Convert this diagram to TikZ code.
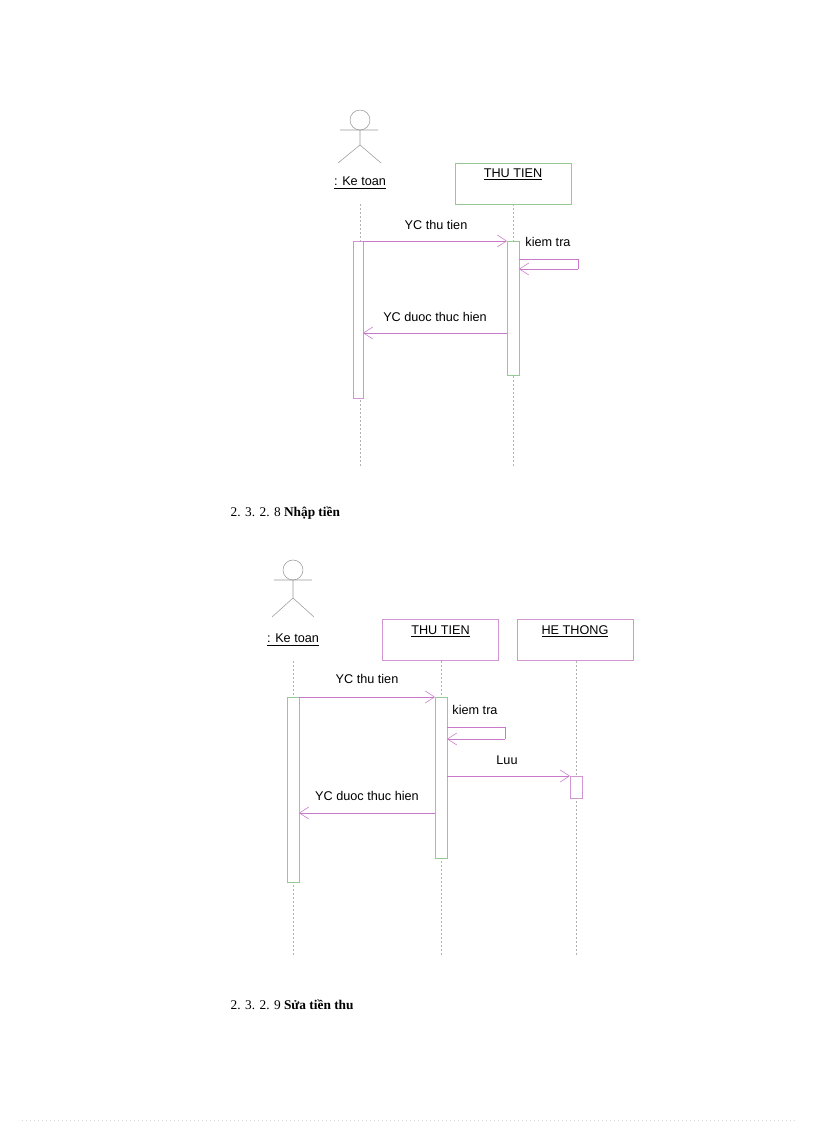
\documentclass[tikz,border=0pt]{standalone}
\usepackage{fontspec}
\setmainfont{Liberation Serif}
\newfontfamily\diag{Liberation Sans}
\usetikzlibrary{arrows.meta}
\definecolor{boxg}{RGB}{150,200,150}
\definecolor{boxm}{RGB}{210,150,210}
\definecolor{msg}{RGB}{200,120,200}
\begin{document}
\begin{tikzpicture}[x=0.75pt,y=-0.75pt,
  lbl/.style={font=\diag\fontsize{9.5}{11}\selectfont,inner sep=1pt},
  obj/.style={draw=#1,minimum width=87pt,minimum height=31pt,inner sep=0pt},
  life/.style={draw=gray!60,dash pattern=on 1.5pt off 1.5pt},
  act/.style={draw=#1,fill=white},
  m/.style={draw=msg,-{Straight Barb[length=7pt,width=9pt]}},
  actor/.style={draw=gray!80}]
\useasboundingbox (0,0) rectangle (816,1123);
% ---------- diagram 1 ----------
\draw[actor] (360,120) circle (10);
\draw[actor] (340,130) -- (378,130) (360,130) -- (360,145) (338,163) -- (360,145) -- (381,163);
\node[lbl] (a1) at (360,183) {\underline{: Ke toan}};
\node[obj=boxg] (t1) at (513,183.5) {};
\node[lbl,anchor=north] at (513,167) {\underline{THU TIEN}};
\coordinate (a1e) at (360,468); \coordinate (t1e) at (513,468);
\draw[life] (360,204) -- (a1e);
\draw[life] (t1.south) -- (t1e);
\draw[act=boxm] (353,241) rectangle (363,398);
\draw[act=boxg] (507,241) rectangle (519,375);
\coordinate (p1) at (363,241); \coordinate (q1) at (507,241);
\draw[m] (p1) -- (q1);
\node[lbl] at (436,225) {YC thu tien};
\draw[msg] (519,259) -- (578,259) -- (578,269);
\coordinate (s1) at (578,269); \coordinate (s1e) at (519,269);
\draw[m] (s1) -- (s1e);
\node[lbl] at (548,242) {kiem tra};
\coordinate (r1) at (507,333); \coordinate (r1e) at (363,333);
\draw[m] (r1) -- (r1e);
\node[lbl] at (435,317) {YC duoc thuc hien};
\node[anchor=west,font=\fontsize{10}{12}\selectfont] (h1) at (226,513) {2. 3. 2. 8 \textbf{Nhập tiền}};
% ---------- diagram 2 ----------
\draw[actor] (293,570) circle (10);
\draw[actor] (274,580) -- (312,580) (293,580) -- (293,598) (272,617) -- (293,598) -- (314,617);
\node[lbl] (a2) at (293,640) {\underline{: Ke toan}};
\node[obj=boxm] (t2) at (440.5,640) {};
\node[lbl,anchor=north] at (440.5,624) {\underline{THU TIEN}};
\node[obj=boxm] (h2) at (575,640) {};
\node[lbl,anchor=north] at (575,624) {\underline{HE THONG}};
\draw[life] (293,661) -- (293,955);
\draw[life] (441,661) -- (441,955);
\draw[life] (576,661) -- (576,955);
\draw[act=boxg] (287,697) rectangle (299,882);
\draw[act=boxg] (435,697) rectangle (447,858);
\draw[act=boxm] (570,776) rectangle (582,798);
\coordinate (p2) at (299,697); \coordinate (q2) at (435,697);
\draw[m] (p2) -- (q2);
\node[lbl] at (367,679) {YC thu tien};
\draw[msg] (447,727) -- (505,727) -- (505,739);
\coordinate (s2) at (505,739); \coordinate (s2e) at (447,739);
\draw[m] (s2) -- (s2e);
\node[lbl] at (475,710) {kiem tra};
\coordinate (l2) at (447,776); \coordinate (l2e) at (570,776);
\draw[m] (l2) -- (l2e);
\node[lbl] at (507,760) {Luu};
\coordinate (r2) at (435,813); \coordinate (r2e) at (299,813);
\draw[m] (r2) -- (r2e);
\node[lbl] at (367,796) {YC duoc thuc hien};
\node[anchor=west,font=\fontsize{10}{12}\selectfont] (h2t) at (226,1005) {2. 3. 2. 9 \textbf{Sửa tiền thu}};
\draw[gray!30,dash pattern=on 1pt off 2pt] (22,1120) -- (795,1120);
\end{tikzpicture}
\end{document}
